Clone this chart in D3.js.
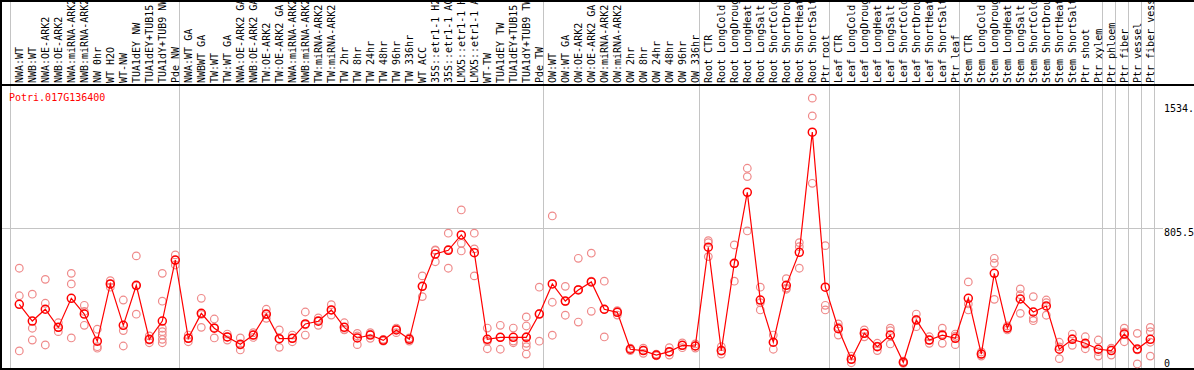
<!DOCTYPE html>
<meta charset="utf-8">
<style>
  body { margin: 0; background: #fff; }
  text { font-family: "DejaVu Sans Mono", monospace; font-size: 10px; }
</style>
<script src="https://d3js.org/d3.v7.min.js"></script>
<div id="chart"></div>
<script>

var geneId = "Potri.017G136400"

// column labels as printed (cut to 14 chars)
var labels = [
  "NWA:WT","NWB:WT","NWA:OE-ARK2","NWB:OE-ARK2","NWA:miRNA-ARK2","NWB:miRNA-ARK2","NW 0hr","WT H2O","WT-NW",
  "TUA1dEY NW","TUA1dEY+TUB15","TUA1dY+TUB9 NW","Pde NW",
  "NWA:WT GA","NWBWT GA","TW:WT","TW:WT GA","NWA:OE-ARK2 GA","NWB:OE-ARK2 GA","TW:OE-ARK2","TW:OE-ARK2 GA",
  "NWA:miRNA-ARK2","NWB:miRNA-ARK2","TW:miRNA-ARK2","TW:miRNA-ARK2","TW 2hr","TW 8hr","TW 24hr","TW 48hr",
  "TW 96hr","TW 336hr","WT ACC","35S::etr1-1 H2","35S::etr1-1 AC","LMX5::etr1-1 H","LMX5::etr1-1 A","WT-TW",
  "TUA1dEY TW","TUA1dEY+TUB15","TUA1dY+TUB9 TW","Pde TW",
  "OW:WT","OW:WT GA","OW:OE-ARK2","OW:OE-ARK2 GA","OW:miRNA-ARK2","OW:miRNA-ARK2","OW 2hr","OW 8hr","OW 24hr",
  "OW 48hr","OW 96hr","OW 336hr",
  "Root CTR","Root LongCold","Root LongDroug","Root LongHeat","Root LongSalt","Root ShortCold","Root ShortDrou",
  "Root ShortHeat","Root ShortSalt","Ptr root",
  "Leaf CTR","Leaf LongCold","Leaf LongDroug","Leaf LongHeat","Leaf LongSalt","Leaf ShortCold","Leaf ShortDrou",
  "Leaf ShortHeat","Leaf ShortSalt","Ptr leaf",
  "Stem CTR","Stem LongCold","Stem LongDroug","Stem LongHeat","Stem LongSalt","Stem ShortCold","Stem ShortDrou",
  "Stem ShortHeat","Stem ShortSalt","Ptr shoot","Ptr xylem",
  "Ptr phloem","Ptr fiber","Ptr vessel","Ptr fiber vess"
]

// columns per block, separated by grey lines
var groupSizes = [13, 28, 12, 10, 10, 11, 1, 1, 1, 1]

var means = [
  361,263,332,226,396,304,145,480,238,472,156,263,620,
  162,308,221,170,127,181,304,160,162,246,262,328,226,164,181,150,211,156,466,655,677,767,663,156,168,168,168,304,
  480,380,445,492,332,314,98,90,64,84,121,117,
  695,90,601,1016,386,139,472,665,1368,461,
  218,39,191,113,181,22,269,152,180,162,
  396,70,542,222,392,316,351,98,156,133,98,
  90,187,99,156
]

var reps = [
  [572,411,88],[420,221,152],[507,367,123],[253,201,226],[542,480,164],[355,238,319],[215,113,104],
  [499,480,461],[386,207,117],[644,469,303],[176,152,136],[542,379,221,201,181,156,136],[650,620,591],
  [181,142,162],[396,226,302],[275,164,224],[187,152,170],[164,94,123],[195,181,167],[332,279,301],
  [211,109,160],[181,142,162],[316,181,241],[281,238,267],[359,298,328],[253,211,214],[191,125,176],
  [195,162,186],[156,146,148],[195,222,216],[164,146,158],[527,406,466],[679,610,676],[777,572,682],
  [913,718,673],[777,527,685],[222,101,145],[238,98,168],[222,136,146],[287,234,133,113,70,171],[461,145,306],
  [878,373,180],[466,297,377],[630,257,448],[660,320,496],[496,170,330],[320,298,324],[104,90,100],
  [104,74,92],[70,60,62],[107,64,81],[121,135,107],[117,129,105],
  [733,722,640],[113,70,87],[708,496,599],[1157,1108,790],[461,370,328],[181,98,138],[511,449,456],
  [722,698,572],[1567,1463,1069],[704,355,328],
  [246,181,227],[19,58,40],[211,171,191],[133,90,116],[221,207,129],[28,16,22],[304,230,273],
  [171,133,152],[221,133,186],[187,125,174],
  [492,328,363],[82,58,70],[630,601,390],[234,211,222],[451,308,417],[406,279,265],[386,297,370],
  [139,43,112],[187,121,160],[171,101,127],[152,58,84],
  [104,64,102],[221,142,198],[191,12,94],[226,201,58,139]
]

var yTicks = [0, 805.5, 1534]
var yTickLabels = ["0", "805.5", "1534."]

var w = 1194, h = 370
var headerH = 85, colW = 13, left0 = 10

var svg = d3.select("#chart").append("svg")
  .attr("width", w)
  .attr("height", h)

var xScale = d3.scaleLinear()
  .domain([0, labels.length])
  .range([left0, left0 + colW * labels.length])

var yScale = d3.scaleLinear()
  .domain([0, 1534])
  .range([366, 103.8])

var px = i => xScale(i) + 9.3

// grey separators
var bounds = [0]
groupSizes.forEach(s => bounds.push(bounds[bounds.length - 1] + s))

svg.append("g").selectAll("line")
  .data(bounds)
  .join("line")
    .attr("x1", d => xScale(d) + 0.5)
    .attr("x2", d => xScale(d) + 0.5)
    .attr("y1", 0)
    .attr("y2", h)
    .attr("stroke", "#c4c4c4")
    .attr("stroke-width", 1)

svg.append("line")
  .attr("x1", 1).attr("x2", 1163)
  .attr("y1", Math.round(yScale(805.5)) + 0.5)
  .attr("y2", Math.round(yScale(805.5)) + 0.5)
  .attr("stroke", "#c4c4c4")

// black frame
var frame = svg.append("g").attr("stroke", "#000").attr("stroke-width", 2)
frame.append("line").attr("x1", 0).attr("x2", w).attr("y1", 1).attr("y2", 1)
frame.append("line").attr("x1", 0).attr("x2", w).attr("y1", headerH).attr("y2", headerH)
frame.append("line").attr("x1", 0).attr("x2", w).attr("y1", 369).attr("y2", 369)
frame.append("line").attr("x1", 1).attr("x2", 1).attr("y1", 0).attr("y2", h)

// rotated column labels
svg.append("g").selectAll("text")
  .data(labels)
  .join("text")
    .attr("transform", (d, i) => `translate(${xScale(i) + 12.8},83) rotate(-90)`)
    .attr("fill", "#000")
    .text(d => d)

// y labels
svg.append("g").selectAll("text")
  .data(yTicks)
  .join("text")
    .attr("x", 1164)
    .attr("y", d => Math.min(yScale(d) + 7.7, 367))
    .attr("fill", "#000")
    .text((d, i) => yTickLabels[i])

svg.append("text")
  .attr("x", 9)
  .attr("y", 101)
  .attr("fill", "#ff0000")
  .text(geneId)

// replicates
var repPts = []
reps.forEach((r, i) => r.forEach(v => repPts.push({i: i, v: v})))

svg.append("g").selectAll("circle")
  .data(repPts)
  .join("circle")
    .attr("cx", d => px(d.i))
    .attr("cy", d => yScale(d.v))
    .attr("r", 3.8)
    .attr("fill", "none")
    .attr("stroke", "#ef8a8a")
    .attr("stroke-width", 1.2)

var line = d3.line()
  .x((d, i) => px(i))
  .y(d => yScale(d))

svg.append("path")
  .datum(means)
  .attr("d", line)
  .attr("fill", "none")
  .attr("stroke", "#ff0000")
  .attr("stroke-width", 1.2)

svg.append("g").selectAll("circle")
  .data(means)
  .join("circle")
    .attr("cx", (d, i) => px(i))
    .attr("cy", d => yScale(d))
    .attr("r", 4)
    .attr("fill", "none")
    .attr("stroke", "#ff0000")
    .attr("stroke-width", 1.5)

</script>
